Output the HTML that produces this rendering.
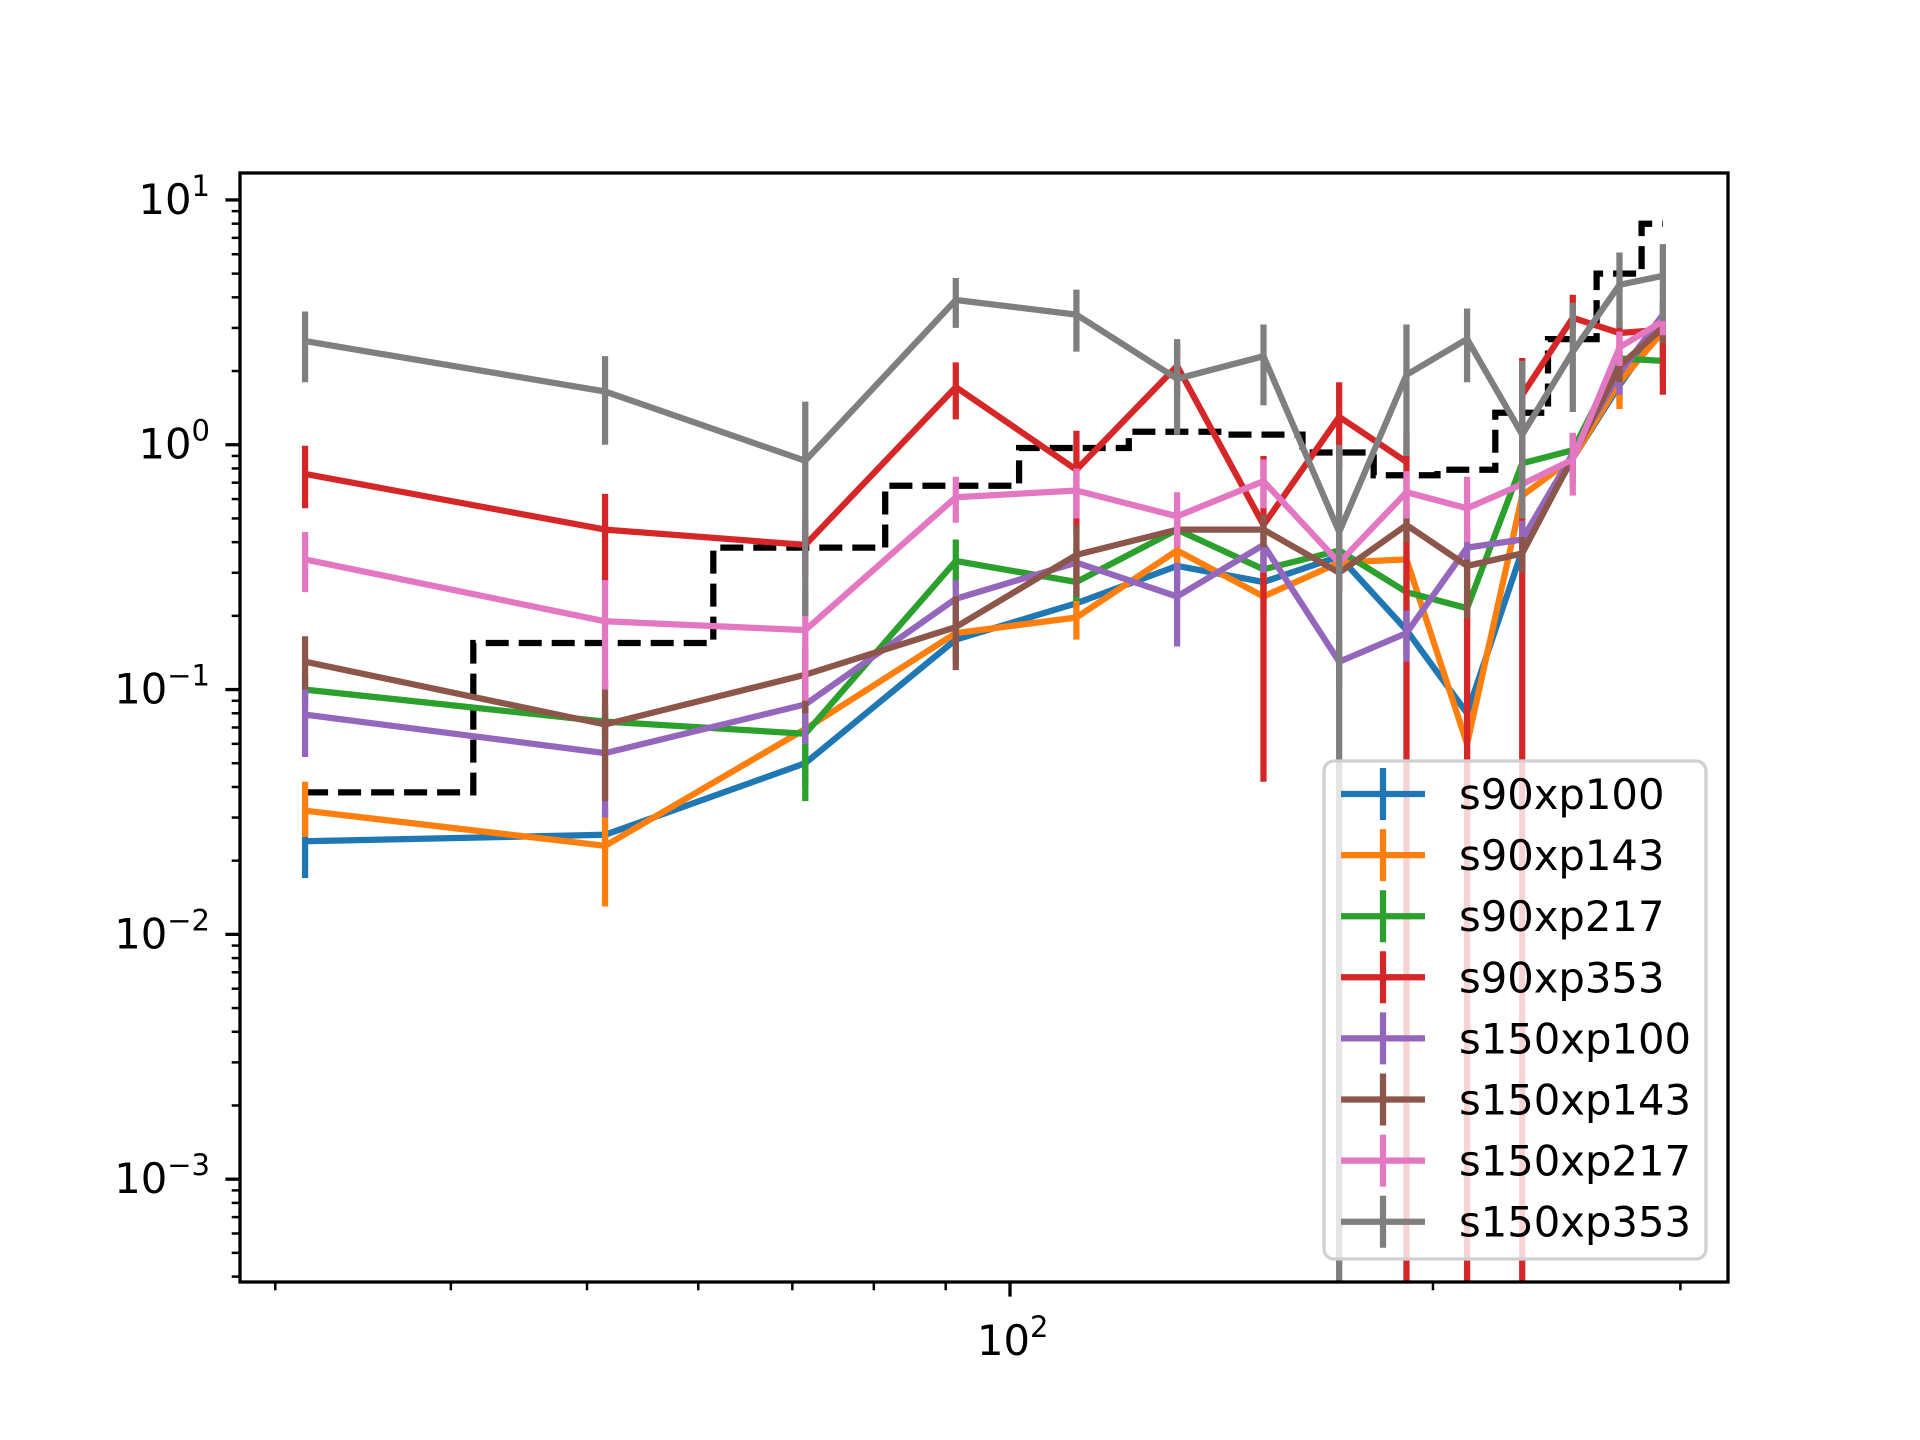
<!DOCTYPE html>
<html><head><meta charset="utf-8"><style>
html,body{margin:0;padding:0;background:#fff;}
svg{display:block;font-family:"DejaVu Sans","Liberation Sans",sans-serif;}
</style></head><body>
<svg id="chart" width="1920" height="1440" viewBox="0 0 1920 1440" xmlns="http://www.w3.org/2000/svg">
<rect width="1920" height="1440" fill="#fff"/>
<g id="plot"></g>
</svg>
<script>
const xs = [31.5,51.5,71.5,91.5,111.5,131.5,151.5,171.5,191.5,211.5,231.5,251.5,271.5,291.5];
const stepY = [0.038,0.155,0.38,0.68,0.97,1.13,1.10,0.93,0.75,0.79,1.35,2.7,5.0,8.0];
const names = ["s90xp100","s90xp143","s90xp217","s90xp353","s150xp100","s150xp143","s150xp217","s150xp353"];
const colors = ["#1f77b4","#ff7f0e","#2ca02c","#d62728","#9467bd","#8c564b","#e377c2","#7f7f7f"];
const v0 = [0.024,0.0255,0.05,0.16,0.225,0.32,0.275,0.35,0.175,0.08,0.37,0.88,1.75,3.1];
const v1 = [0.032,0.023,0.069,0.17,0.197,0.37,0.24,0.33,0.34,0.06,0.62,0.88,1.8,2.9];
const v2 = [0.1,0.074,0.066,0.335,0.275,0.45,0.31,0.37,0.25,0.215,0.84,0.95,2.25,2.2];
const v3 = [0.76,0.45,0.39,1.72,0.79,2.1,0.47,1.3,0.85,-0.5,1.6,3.3,2.86,2.95];
const v4 = [0.079,0.055,0.087,0.235,0.33,0.24,0.39,0.13,0.17,0.38,0.41,0.92,1.95,3.4];
const v5 = [0.13,0.072,0.115,0.18,0.355,0.45,0.45,0.3,0.47,0.32,0.36,0.89,2.1,3.0];
const v6 = [0.34,0.19,0.175,0.61,0.65,0.51,0.71,0.33,0.64,0.55,0.69,0.87,2.5,3.2];
const v7 = [2.65,1.65,0.86,3.9,3.4,1.86,2.3,0.44,1.93,2.7,1.1,2.4,4.5,4.9];
const lo0 = [0.017,0.022,0.04,0.13,0.19,0.27,0.23,0.29,0.14,0.065,0.31,0.73,1.45,2.6];
const hi0 = [0.033,0.029,0.06,0.19,0.26,0.37,0.32,0.41,0.21,0.095,0.43,1.03,2.05,3.6];
const lo1 = [0.025,0.013,0.058,0.14,0.16,0.31,0.2,0.27,0.28,0.05,0.52,0.7,1.4,2.4];
const hi1 = [0.042,0.033,0.08,0.2,0.235,0.43,0.28,0.39,0.4,0.07,0.72,1.06,2.2,3.4];
const lo2 = [0.085,0.062,0.035,0.26,0.23,0.39,0.26,0.31,0.21,0.175,0.74,0.8,1.95,1.9];
const hi2 = [0.115,0.086,0.1,0.41,0.32,0.51,0.36,0.43,0.29,0.255,0.94,1.1,2.55,2.5];
const lo3 = [0.55,0.27,0.29,1.27,0.44,1.6,0.042,0.8,0,0,0,3.0,2.5,1.6];
const hi3 = [0.99,0.63,0.49,2.17,1.14,2.6,0.9,1.8,1.13,0.3,2.26,4.1,3.2,3.6];
const lo4 = [0.053,0.03,0.06,0.19,0.28,0.15,0.3,0.1,0.13,0.3,0.33,0.75,1.6,2.9];
const hi4 = [0.105,0.08,0.115,0.28,0.38,0.33,0.48,0.16,0.21,0.46,0.49,1.09,2.3,3.9];
const lo5 = [0.1,0.035,0.08,0.12,0.24,0.38,0.38,0.25,0.4,0.195,0.3,0.7,1.8,2.6];
const hi5 = [0.165,0.11,0.15,0.24,0.47,0.52,0.52,0.35,0.54,0.34,0.42,1.08,2.4,3.4];
const lo6 = [0.25,0.1,0.09,0.48,0.5,0.38,0.55,0.25,0.5,0.4,0.55,0.62,2.1,2.8];
const hi6 = [0.44,0.28,0.26,0.74,0.8,0.64,0.87,0.41,0.78,0.74,0.83,1.12,2.9,3.6];
const lo7 = [1.8,1.0,0.2,3.0,2.4,1.1,1.45,0,0.9,1.8,0.5,1.36,3.0,3.2];
const hi7 = [3.5,2.3,1.5,4.8,4.3,2.7,3.1,1.0,3.1,3.6,2.2,3.8,6.1,6.6];
const yTickLabels = ["10","10","10","10","10"];
const yTickExps = ["1","0","\u22121","\u22122","\u22123"];
const yTickVals = [10,1,0.1,0.01,0.001];
const xTickVals = [100];
const xMinorVals = [30,40,50,60,70,80,90,200,300];

const vals = [v0,v1,v2,v3,v4,v5,v6,v7];
const los = [lo0,lo1,lo2,lo3,lo4,lo5,lo6,lo7];
const his = [hi0,hi1,hi2,hi3,hi4,hi5,hi6,hi7];

const L=240,R=1728,T=173,B=1282;
const XMIN=1.452,XMAX=2.511,YMIN=-3.42,YMAX=1.110;
const LW=6.25, FS=41.7, SUP=29;
function X(v){return L+(Math.log10(v)-XMIN)/(XMAX-XMIN)*(R-L);}
function Y(v){if(v<=0)return B+20;return B-(Math.log10(v)-YMIN)/(YMAX-YMIN)*(B-T);}
const NS="http://www.w3.org/2000/svg";
const plot=document.getElementById('plot');
function mk(tag,attrs,parent){const e=document.createElementNS(NS,tag);for(const k in attrs)e.setAttribute(k,attrs[k]);(parent||plot).appendChild(e);return e;}

const defs=mk('defs',{});
const cp=mk('clipPath',{id:'clip'},defs);
mk('rect',{x:L,y:T,width:R-L,height:B-T},cp);
const data=mk('g',{'clip-path':'url(#clip)'});



let d='';
for(let i=0;i<xs.length;i++){
  const x0 = i===0?X(xs[0]):X((xs[i-1]+xs[i])/2);
  const x1 = i===xs.length-1?X(xs[i]):X((xs[i]+xs[i+1])/2);
  d += (i===0?'M':'L')+x0.toFixed(1)+','+Y(stepY[i]).toFixed(1)+' L'+x1.toFixed(1)+','+Y(stepY[i]).toFixed(1)+' ';
}
const step=mk('path',{d:d,fill:'none',stroke:'#000','stroke-width':LW,'stroke-dasharray':'23,10'},data);



for(let s=0;s<8;s++){
  const g=mk('g',{},data);
  
  
  const v=vals[s];
  let p='',pen=false;
  for(let i=0;i<xs.length;i++){
    if(v[i]<=0){pen=false;continue;}
    p+=(pen?'L':'M')+X(xs[i]).toFixed(1)+','+Y(v[i]).toFixed(1)+' ';pen=true;
  }
  const ln=mk('path',{d:p,fill:'none',stroke:colors[s],'stroke-width':LW,'stroke-linejoin':'round'},g);
  
  
  for(let i=0;i<xs.length;i++){
    const eb=mk('line',{x1:X(xs[i]),x2:X(xs[i]),y1:Y(his[s][i]),y2:Y(los[s][i]),stroke:colors[s],'stroke-width':LW},g);
    
    
  }
}

const ax=mk('g',{});


for(let dec=-4;dec<=1;dec++){
  for(let m=2;m<=9;m++){
    const val=m*Math.pow(10,dec);const y=Y(val);
    if(y<T||y>B)continue;
    const t=mk('line',{x1:L-8.3,x2:L,y1:y,y2:y,stroke:'#000','stroke-width':2.5},ax);
    
    
  }
}
for(let i=0;i<yTickVals.length;i++){
  const y=Y(yTickVals[i]);
  const t=mk('line',{x1:L-14.6,x2:L,y1:y,y2:y,stroke:'#000','stroke-width':3.3},ax);
  
  
  const tx=mk('text',{x:210,y:y+14,'text-anchor':'end','font-size':FS,fill:'#000'},ax);
  
  
  tx.appendChild(document.createTextNode(yTickLabels[i]));
  const sp=mk('tspan',{dy:-18,'font-size':SUP},tx);
  sp.textContent=yTickExps[i];
}
for(const xv of xMinorVals){
  const x=X(xv);
  const t=mk('line',{x1:x,x2:x,y1:B,y2:B+8.3,stroke:'#000','stroke-width':2.5},ax);
  
  
}
for(const xv of xTickVals){
  const x=X(xv);
  const t=mk('line',{x1:x,x2:x,y1:B,y2:B+14.6,stroke:'#000','stroke-width':3.3},ax);
  
  
  const tx=mk('text',{x:x-33,y:B+73,'font-size':FS,fill:'#000'},ax);
  
  
  tx.appendChild(document.createTextNode('10'));
  const sp=mk('tspan',{dy:-18,'font-size':SUP},tx);
  sp.textContent='2';
}
const frame=mk('rect',{x:L,y:T,width:R-L,height:B-T,fill:'none',stroke:'#000','stroke-width':3.3},ax);



const lg=mk('g',{});


const lb=mk('rect',{x:1324,y:761,width:382,height:498,rx:10,fill:'rgba(255,255,255,0.8)',stroke:'#d0d0d0','stroke-width':3.3},lg);


for(let s=0;s<8;s++){
  const y=794+s*61.1;
  const e=mk('g',{},lg);
  
  
  mk('line',{x1:1341,x2:1425,y1:y,y2:y,stroke:colors[s],'stroke-width':LW},e);
  mk('line',{x1:1383,x2:1383,y1:y-26,y2:y+26,stroke:colors[s],'stroke-width':LW},e);
  const t=mk('text',{x:1459,y:y+15,'font-size':FS,fill:'#000'},e);
  t.textContent=names[s];
}
</script>
</body></html>
